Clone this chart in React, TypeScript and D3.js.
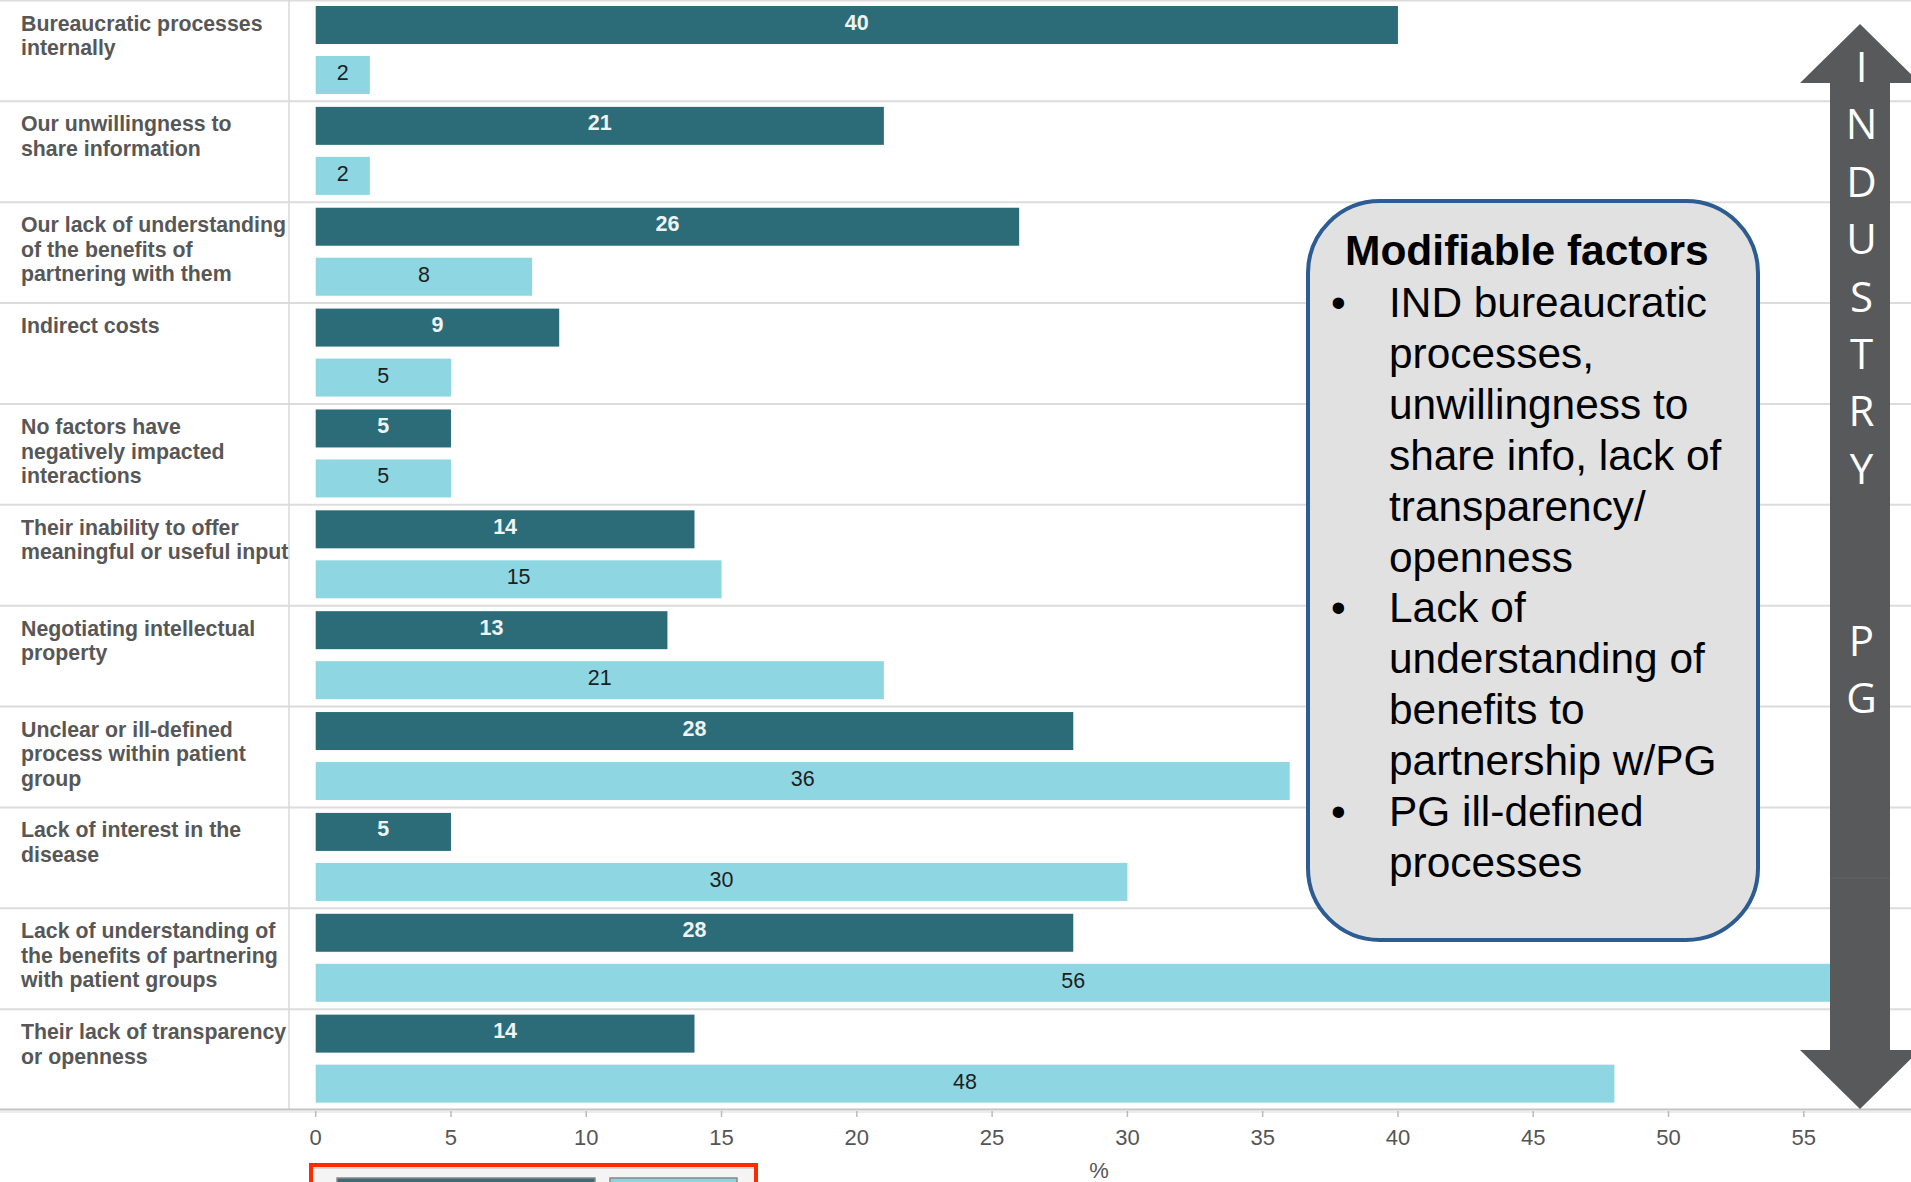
import React from "react";
import * as d3 from "d3";

const categories: string[][] = [
  ["Bureaucratic processes", "internally"],
  ["Our unwillingness to", "share information"],
  ["Our lack of understanding", "of the benefits of", "partnering with them"],
  ["Indirect costs"],
  ["No factors have", "negatively impacted", "interactions"],
  ["Their inability to offer", "meaningful or useful input"],
  ["Negotiating intellectual", "property"],
  ["Unclear or ill-defined", "process within patient", "group"],
  ["Lack of interest in the", "disease"],
  ["Lack of understanding of", "the benefits of partnering", "with patient groups"],
  ["Their lack of transparency", "or openness"],
];
const industryValues = [40, 21, 26, 9, 5, 14, 13, 28, 5, 28, 14];
const pgValues = [2, 2, 8, 5, 5, 15, 21, 36, 30, 56, 48];
const xTicks = [0, 5, 10, 15, 20, 25, 30, 35, 40, 45, 50, 55];
const axisTitle = "%";

const boxTitle = "Modifiable factors";
const boxBullets: string[][] = [
  ["IND bureaucratic", "processes,", "unwillingness to", "share info, lack of", "transparency/", "openness"],
  ["Lack of", "understanding of", "benefits to", "partnership w/PG"],
  ["PG ill-defined", "processes"],
];
const arrowLetters = ["I", "N", "D", "U", "S", "T", "R", "Y", "", "", "P", "G"];

const W = 1911;
const H = 1182;
const DARK = "#2c6c78";
const LIGHT = "#8ed6e1";

export default function App() {
  const x = d3.scaleLinear().domain([0, 55]).range([315.7, 1803.8]);
  const y = d3
    .scaleBand<number>()
    .domain(categories.map((_, i) => i))
    .range([0, 1109.5])
    .padding(0);
  const barH = 38;

  const boxLines: { text: string; bullet: boolean }[] = [];
  boxBullets.forEach((b) =>
    b.forEach((t, j) => boxLines.push({ text: t, bullet: j === 0 }))
  );

  const font = "'Liberation Sans', Arial, Helvetica, sans-serif";

  const ax = 1860;
  const arrowPts: [number, number][] = [
    [ax, 24],
    [ax + 60, 83],
    [ax + 30, 83],
    [ax + 30, 1050],
    [ax + 60, 1050],
    [ax, 1109],
    [ax - 60, 1050],
    [ax - 30, 1050],
    [ax - 30, 83],
    [ax - 60, 83],
  ];

  return (
    <div style={{ position: "absolute", left: 0, top: 0 }}>
      <svg width={W} height={H} style={{ display: "block" }} fontFamily={font}>
        <rect x={0} y={0} width={W} height={H} fill="#ffffff" />
        {/* row separators */}
        {categories.map((_, i) => (
          <line
            key={"sep" + i}
            x1={0}
            x2={W}
            y1={(y(i) as number) + 0.5}
            y2={(y(i) as number) + 0.5}
            stroke="#dcdcdc"
            strokeWidth={2}
          />
        ))}
        {/* label column divider */}
        <line x1={289} x2={289} y1={0} y2={1109} stroke="#d8d8d8" strokeWidth={1.5} />
        {/* axis line */}
        <line x1={0} x2={W} y1={1109.5} y2={1109.5} stroke="#c4c4c4" strokeWidth={2} />
        <line x1={0} x2={W} y1={1112} y2={1112} stroke="#ececec" strokeWidth={2} />

        {/* category labels */}
        {categories.map((lines, i) => (
          <text
            key={"lab" + i}
            x={21}
            y={(y(i) as number) + 30.5}
            fontSize={21.3}
            fontWeight="bold"
            fill="#575757"
          >
            {lines.map((l, j) => (
              <tspan key={j} x={21} dy={j === 0 ? 0 : 24.6}>
                {l}
              </tspan>
            ))}
          </text>
        ))}

        {/* bars */}
        {categories.map((_, i) => {
          const top = y(i) as number;
          return (
            <g key={"bars" + i}>
              <rect
                x={x(0)}
                y={top + 6}
                width={x(industryValues[i]) - x(0)}
                height={barH}
                fill={DARK}
              />
              <rect
                x={x(0)}
                y={top + 56}
                width={x(pgValues[i]) - x(0)}
                height={barH}
                fill={LIGHT}
              />
              <text
                x={(x(0) + x(industryValues[i])) / 2}
                y={top + 29.5}
                textAnchor="middle"
                fontSize={21.5}
                fontWeight="bold"
                fill="#eef4f6"
              >
                {industryValues[i]}
              </text>
              <text
                x={(x(0) + x(pgValues[i])) / 2}
                y={top + 80}
                textAnchor="middle"
                fontSize={21.5}
                fill="#1e1e1e"
              >
                {pgValues[i]}
              </text>
            </g>
          );
        })}

        {/* x ticks */}
        {xTicks.map((t) => (
          <g key={"t" + t}>
            <line x1={x(t)} x2={x(t)} y1={1111} y2={1117} stroke="#bbb" strokeWidth={1.5} />
            <text x={x(t)} y={1145} textAnchor="middle" fontSize={22} fill="#555">
              {t}
            </text>
          </g>
        ))}
        <text x={1099} y={1178} textAnchor="middle" fontSize={22} fill="#555">
          {axisTitle}
        </text>

        {/* legend box (partially visible) */}
        <rect x={311} y={1165} width={445} height={40} fill="#f4f4f4" stroke="#ff2a00" strokeWidth={4} />
        <line x1={313} x2={754} y1={1168} y2={1168} stroke="#d8d8d8" strokeWidth={2} />
        <rect x={337} y={1178} width={258} height={20} fill="#3b6b73" stroke="#888" strokeWidth={1.5} />
        <rect x={610} y={1178} width={127} height={20} fill="#8fd3dc" stroke="#888" strokeWidth={1.5} />

        {/* modifiable factors box */}
        <rect
          x={1308}
          y={201}
          width={450}
          height={739}
          rx={72}
          ry={72}
          fill="#e1e1e2"
          stroke="#2c5c92"
          strokeWidth={4}
        />
        <text x={1345} y={265} fontSize={42.5} fontWeight="bold" fill="#000">
          {boxTitle}
        </text>
        {boxLines.map((l, i) => (
          <g key={"bl" + i}>
            {l.bullet && (
              <text x={1331} y={317 + i * 50.9} fontSize={42} fill="#000">
                •
              </text>
            )}
            <text x={1389} y={317 + i * 50.9} fontSize={42.4} fill="#000">
              {l.text}
            </text>
          </g>
        ))}

        {/* industry / PG arrow */}
        <polygon points={arrowPts.map((p) => p.join(",")).join(" ")} fill="#58595b" />
        <line x1={ax - 30} x2={ax + 30} y1={878} y2={878} stroke="#606163" strokeWidth={1.5} />
        {arrowLetters.map((c, i) => (
          <text
            key={"al" + i}
            x={ax + 1.5}
            y={82 + i * 57.4}
            textAnchor="middle"
            fontSize={42}
            fill="#ffffff"
            fontFamily="'Open Sans', 'Noto Sans', sans-serif"
          >
            {c}
          </text>
        ))}
      </svg>
    </div>
  );
}
